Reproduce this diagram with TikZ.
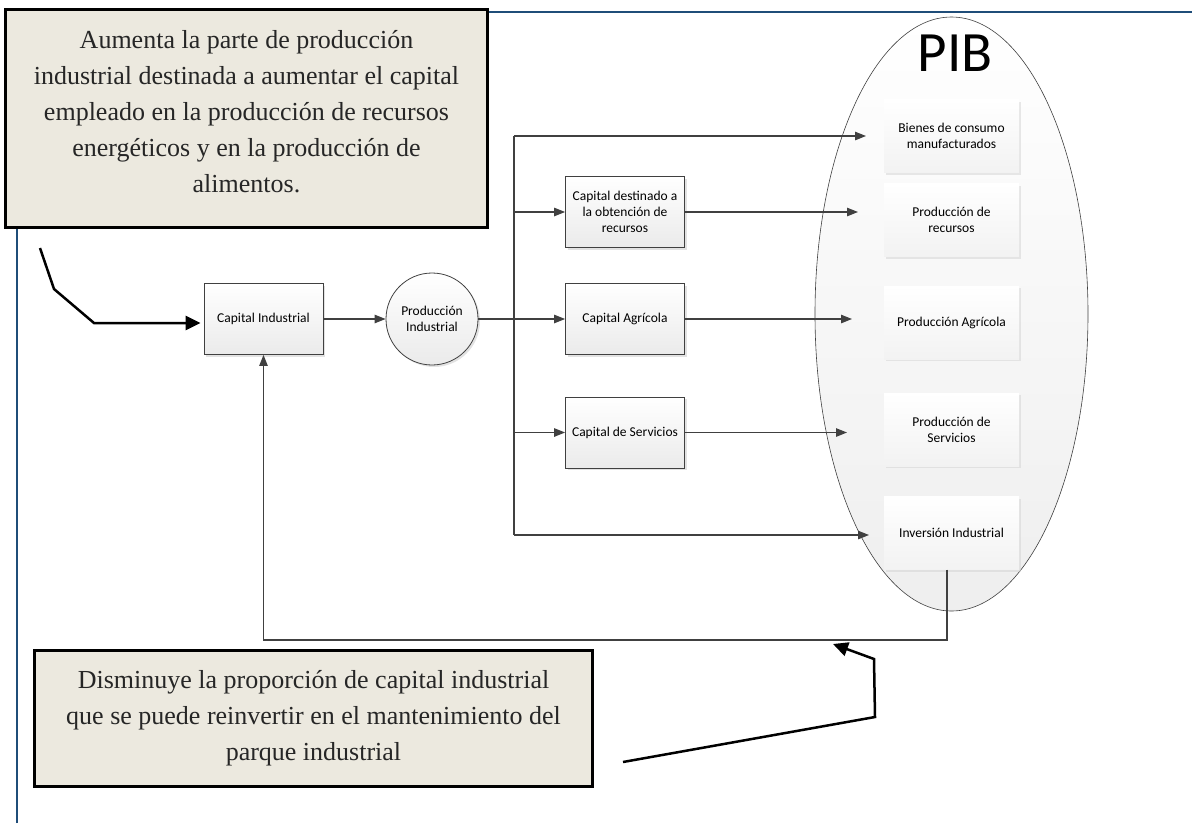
\documentclass[tikz,border=0pt]{standalone}
\usepackage{fontspec}
\setmainfont{Carlito}
\newfontfamily\calloutserif{Liberation Serif}
\usetikzlibrary{arrows.meta,shapes.geometric,shadows}
\definecolor{linegray}{RGB}{64,64,64}
\definecolor{framecol}{RGB}{31,77,121}
\definecolor{calloutfill}{RGB}{236,233,223}
\newcommand{\boxfont}{\fontsize{13.5}{16}\selectfont}

\begin{document}
\begin{tikzpicture}[
    x=1pt, y=-1pt,
    capbox/.style={draw=linegray, line width=0.8pt, rectangle, minimum width=119pt, minimum height=71pt,
        top color=white, bottom color=gray!16, drop shadow={shadow xshift=2pt, shadow yshift=-2pt, fill=gray!45},
        align=center, font=\boxfont, inner sep=2pt},
    prodcirc/.style={draw=linegray, line width=0.8pt, circle, minimum size=92pt,
        top color=white, bottom color=gray!16, drop shadow={shadow xshift=2pt, shadow yshift=-2pt, fill=gray!45},
        align=center, font=\boxfont, inner sep=1pt},
    pibellipse/.style={draw=linegray, line width=0.6pt, ellipse, minimum width=273pt, minimum height=594pt,
        top color=white, bottom color=gray!13},
    pibbox/.style={rectangle, minimum width=135pt, minimum height=73pt,
        top color=white, bottom color=gray!10, drop shadow={shadow xshift=2pt, shadow yshift=-2pt, fill=gray!35},
        align=center, font=\boxfont, inner sep=2pt},
    callout/.style={draw=black, line width=2.5pt, fill=calloutfill, rectangle, align=center,
        font={\calloutserif\fontsize{26}{36}\selectfont}, text=black!85},
    wire/.style={draw=linegray, line width=1.1pt},
    flow/.style={draw=linegray, line width=1.1pt, -{Triangle[length=11pt,width=8.5pt]}},
    callarrow/.style={draw=black, line width=2.5pt, -{Triangle[length=15pt,width=14pt]}}
]
\useasboundingbox (0,0) rectangle (1192,823);

% page frame
\draw[framecol, line width=2pt] (17,823) -- (17,12) -- (1192,12);

% PIB
\node[pibellipse] (pib) at (951.5,314) {};
\node[font=\fontsize{57}{60}\selectfont, inner sep=0pt] (pibtitle) at (955,53.5) {PIB};
\node[pibbox] (bienes) at (951.5,136) {Bienes de consumo\\manufacturados};
\node[pibbox] (prodrec) at (951.5,220) {Producción de\\recursos};
\node[pibbox] (prodagr) at (951.5,322.5) {Producción Agrícola};
\node[pibbox] (prodserv) at (951.5,429.5) {Producción de\\Servicios};
\node[pibbox] (inv) at (951.5,533) {Inversión Industrial};

% capital
\node[capbox] (capind) at (263.5,319) {Capital Industrial};
\node[prodcirc] (prodind) at (432,319) {Producción\\Industrial};
\node[capbox] (capdest) at (625,212) {Capital destinado a\\la obtención de\\recursos};
\node[capbox] (capagr) at (625,319) {Capital Agrícola};
\node[capbox] (capserv) at (625,432.5) {Capital de Servicios};

% arrow ends inside PIB
\coordinate (tipbien) at (866,136);
\coordinate (tiprec) at (858,212);
\coordinate (tipagr) at (852,319);
\coordinate (tipserv) at (847,432.5);
\coordinate (tipinv) at (869,535);

% distribution bus
\coordinate (bustop) at (514,136);
\coordinate (busbot) at (514,535);
\draw[wire] (bustop) -- (busbot);
\draw[flow] (capind.east) -- (prodind.west);
\draw[flow] (prodind.east) -- (capagr.west);
\draw[flow] (bustop) -- (tipbien);
\draw[flow] (bustop |- capdest.west) -- (capdest.west);
\draw[flow] (bustop |- capserv.west) -- (capserv.west);
\draw[flow] (busbot) -- (tipinv);
\draw[flow] (capdest.east) -- (tiprec);
\draw[flow] (capagr.east) -- (tipagr);
\draw[flow] (capserv.east) -- (tipserv);

% feedback to capital industrial
\coordinate (fbturn) at (947,640);
\draw[flow] (inv.south -| fbturn) -- (fbturn) -| (capind.south);

% notes
\node[callout, minimum width=482pt, minimum height=218pt, text depth=14pt] (notetop) at (246.5,118.5)
{Aumenta la parte de producción\\industrial destinada a aumentar el capital\\empleado en la producción de recursos\\energéticos y en la producción de\\alimentos.};
\node[callout, minimum width=558pt, minimum height=136pt] (notebot) at (313.5,718.5)
{Disminuye la proporción de capital industrial\\que se puede reinvertir en el mantenimiento del\\parque industrial};

\coordinate (notetopend) at (40,248);
\draw[callarrow] (notetopend) -- (54,289) -- (94,323) -- ([xshift=-3pt,yshift=-4pt]capind.west);
\coordinate (notebotend) at (623,762);
\coordinate (fbhit) at (833,644);
\draw[callarrow] (notebotend) -- (875,717) -- (874,659) -- (fbhit);

\end{tikzpicture}
\end{document}
